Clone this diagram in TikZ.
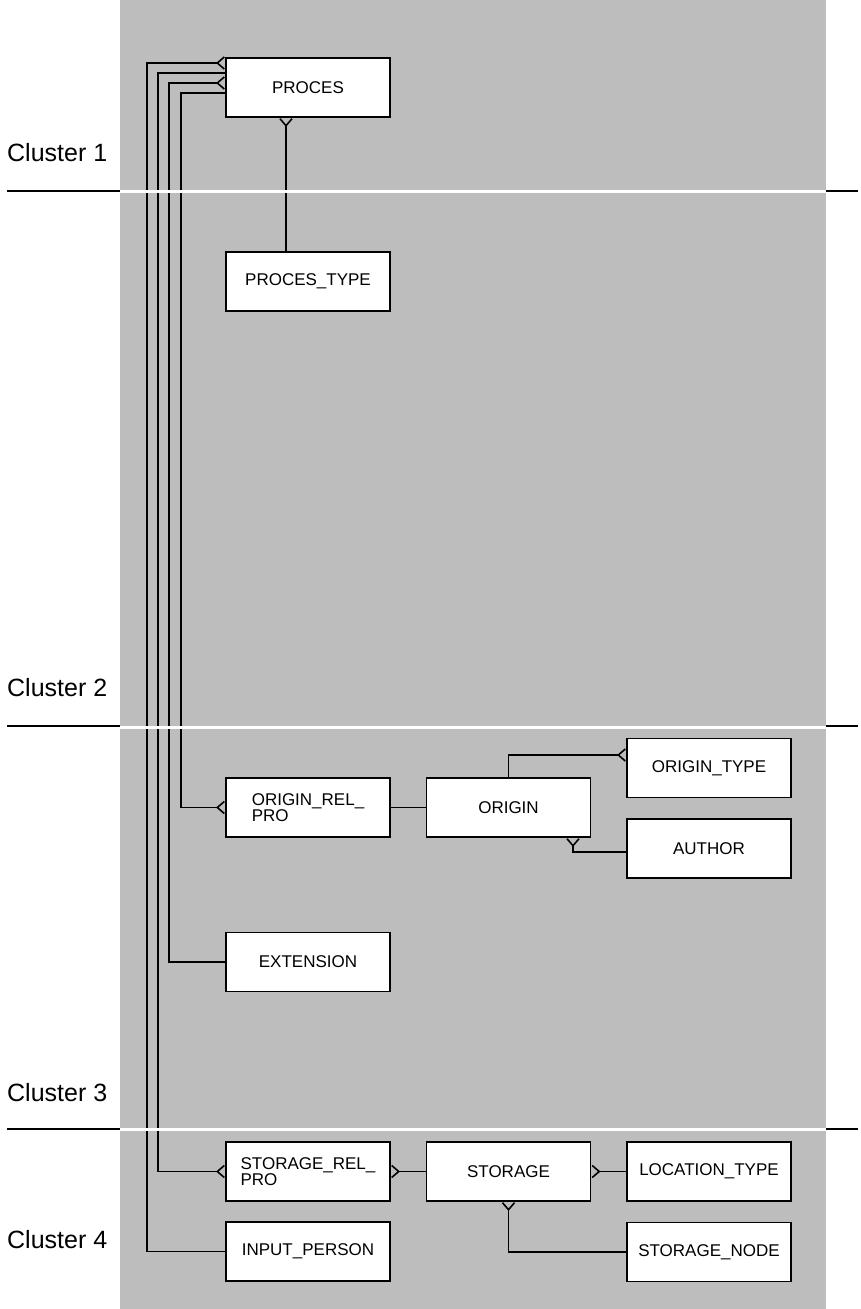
\documentclass[tikz,border=0pt]{standalone}
\usepackage{fontspec}
\setmainfont{Liberation Sans}
\usetikzlibrary{arrows.meta}
\definecolor{ERGrey}{HTML}{BDBDBD}

\tikzset{
  entity/.style={draw,fill=white,line width=1.8pt,minimum width=164pt,minimum height=59pt,
    inner sep=0pt,align=left,font=\fontsize{17}{16}\selectfont},
  rel/.style={line width=1.6pt},
  crowfoot/.tip={Straight Barb[reversed,length=7pt,width=12pt]},
  clusterlbl/.style={anchor=west,inner sep=0pt,font=\fontsize{25}{30}\selectfont},
  divider/.style={line width=1.2pt},
  gap/.style={white,line width=3pt},
}

\begin{document}
\begin{tikzpicture}[x=1pt,y=-1pt]
\path[use as bounding box] (0,0) rectangle (860,1309);
\fill[ERGrey] (120,0) rectangle (826,1309);
% cluster labels and dividers
\node[clusterlbl] (c1) at (7,153) {Cluster 1};
\node[clusterlbl] (c2) at (7,688) {Cluster 2};
\node[clusterlbl] (c3) at (7,1093) {Cluster 3};
\node[clusterlbl] (c4) at (7,1240) {Cluster 4};
\draw[divider] (7,191) -- (120,191) (826,191) -- (858,191);
\draw[divider] (7,726) -- (120,726) (826,726) -- (858,726);
\draw[divider] (7,1129) -- (120,1129) (826,1129) -- (858,1129);
% entities
\node[entity] (proces) at (308,87.5) {PROCES};
\node[entity] (procestype) at (308,281.5) {PROCES\_TYPE};
\node[entity] (originrel) at (308,807.5) {ORIGIN\_REL\_\\PRO};
\node[entity] (origin) at (508.5,807.5) {ORIGIN};
\node[entity] (origintype) at (709,768) {ORIGIN\_TYPE};
\node[entity] (author) at (709,848.5) {AUTHOR};
\node[entity] (extension) at (308,962) {EXTENSION};
\node[entity] (storagerel) at (308,1171.5) {STORAGE\_REL\_\\PRO};
\node[entity] (storage) at (508.5,1171.5) {STORAGE};
\node[entity] (loctype) at (709,1171.5) {LOCATION\_TYPE};
\node[entity] (inputperson) at (308,1251.5) {INPUT\_PERSON};
\node[entity] (storagenode) at (709,1252) {STORAGE\_NODE};
% relationships
\draw[rel,crowfoot-] ([xshift=-22pt]proces.south) -- ([xshift=-22pt]procestype.north);
\draw[rel,crowfoot-] ([yshift=24.5pt]proces.west) -| ([xshift=-78pt]inputperson.west) -- (inputperson.west);
\draw[rel,-crowfoot] ([yshift=14.5pt]proces.west) -| ([xshift=-67pt]storagerel.west) -- (storagerel.west);
\draw[rel,crowfoot-] ([yshift=4.5pt]proces.west) -| ([xshift=-56pt]extension.west) -- (extension.west);
\draw[rel,-crowfoot] ([yshift=-5.5pt]proces.west) -| ([xshift=-44pt]originrel.west) -- (originrel.west);
\draw[rel] (originrel) -- (origin);
\draw[rel,-crowfoot] (origin.north) |- ([yshift=13pt]origintype.west);
\draw[rel,crowfoot-] ([xshift=64.5pt]origin.south) |- ([yshift=-3.5pt]author.west);
\draw[rel,crowfoot-] (storagerel) -- (storage);
\draw[rel,crowfoot-] (storage) -- (loctype);
\draw[rel,crowfoot-] (storage.south) |- (storagenode.west);
% white gaps across the shaded area
\draw[gap] (120,191) -- (826,191);
\draw[gap] (120,727) -- (826,727);
\draw[gap] (120,1129) -- (826,1129);
\end{tikzpicture}
\end{document}
